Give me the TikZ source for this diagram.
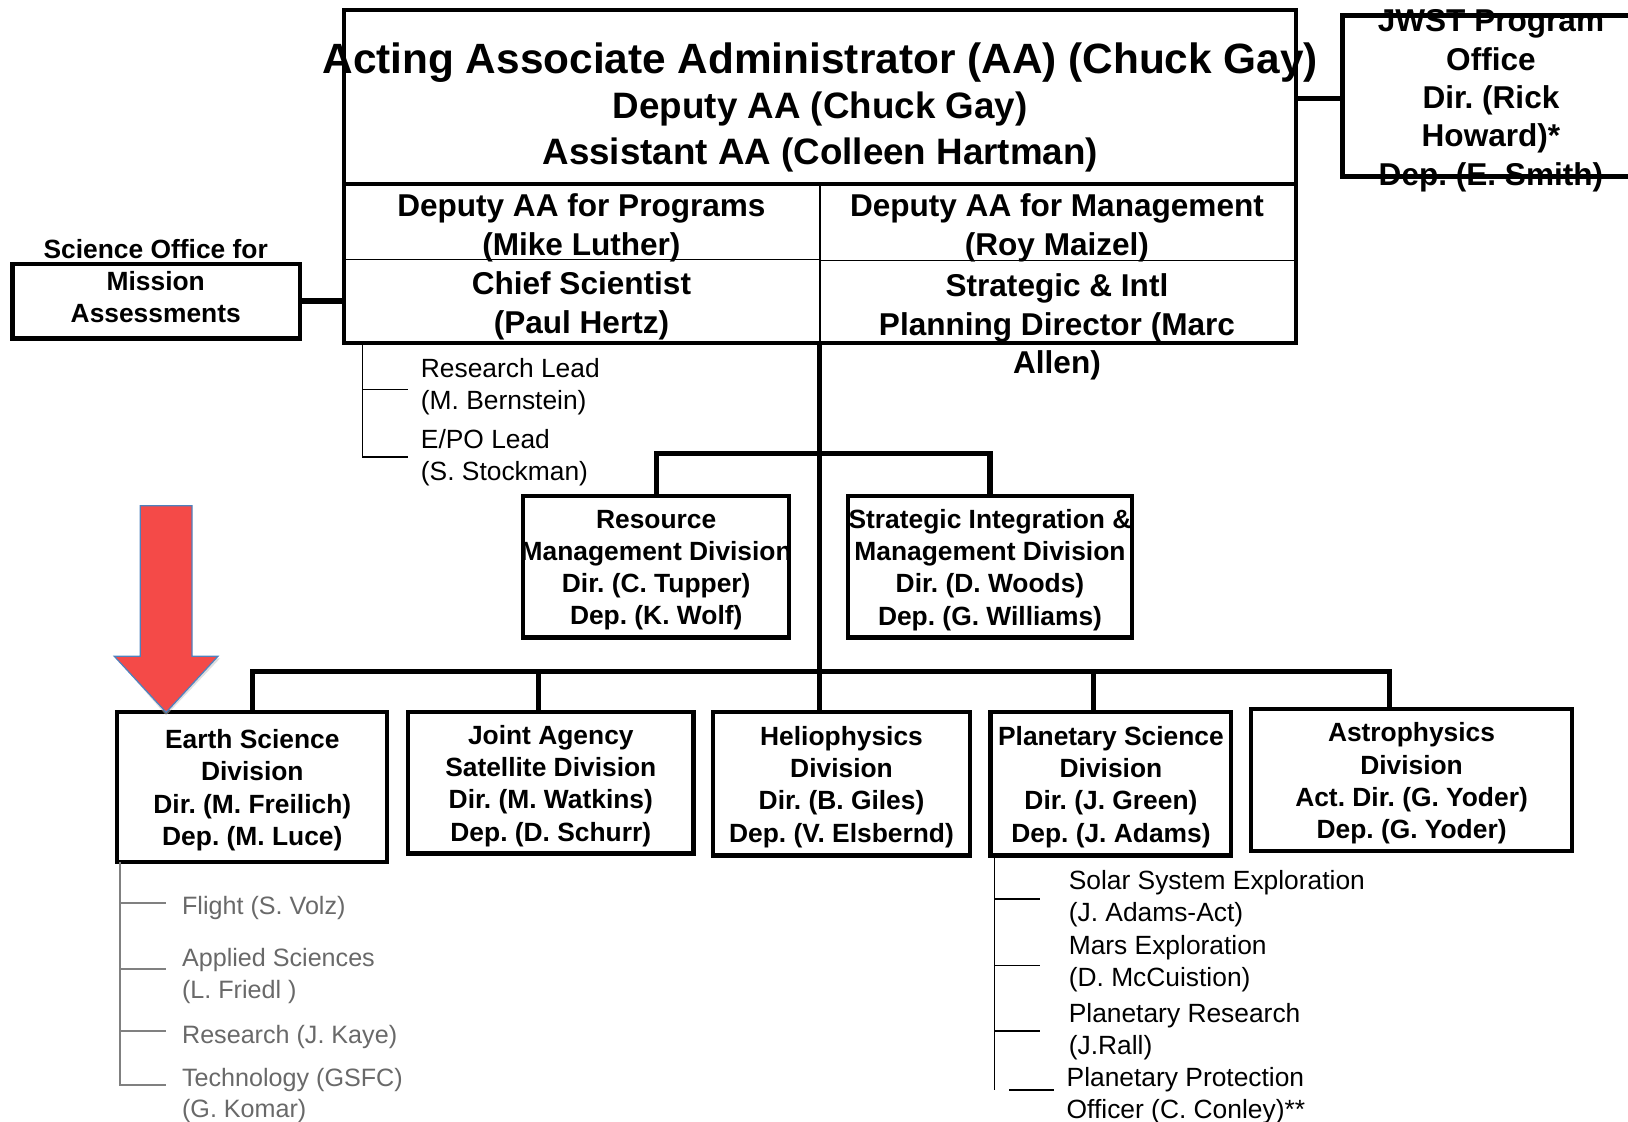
\documentclass[tikz,border=0pt]{standalone}
\usepackage{fontspec}
\setmainfont{Liberation Sans}
\usepackage{tikz}
\usetikzlibrary{calc}
\frenchspacing

\definecolor{arrowred}{RGB}{244,74,72}
\definecolor{arrowedge}{RGB}{79,129,189}
\definecolor{listgray}{RGB}{105,105,105}
\definecolor{linegray}{RGB}{128,128,128}

\begin{document}
\begin{tikzpicture}[
  x=0.5pt, y=-0.5pt,
  box/.style={draw, line width=2pt, fill=white, inner sep=0pt},
  link/.style={line width=2.5pt},
  thinline/.style={line width=0.75pt},
  titletext/.style={font=\fontsize{20.4}{24}\selectfont\bfseries, inner sep=0pt, yshift=-2.5pt},
  subtext/.style={font=\fontsize{17.7}{22}\selectfont\bfseries, align=center, inner sep=0pt, yshift=-2pt},
  depttext/.style={font=\fontsize{15.2}{18.5}\selectfont\bfseries, align=center, inner sep=0pt, yshift=-1.5pt},
  divtext/.style={font=\fontsize{12.7}{15.5}\selectfont\bfseries, align=center, inner sep=0pt, yshift=-1.5pt},
  listtext/.style={font=\fontsize{12.7}{15.5}\selectfont, align=left, anchor=west, inner sep=0pt, yshift=-1.5pt},
  graytext/.style={font=\fontsize{12.1}{15}\selectfont, text=listgray, align=left, anchor=west, inner sep=0pt, yshift=-1.5pt},
  ]

  % Parameters
  \def\pxu{0.5pt}
  \def\Xm{790}
  \def\Yrow{177}

  \useasboundingbox (0,0) rectangle (1568,1080);

  % Associate Administrator box
  \node[box, minimum width=917*\pxu, minimum height=320*\pxu] (aa) at (789.5,170) {};
  \draw[line width=2pt] (331,\Yrow) -- (1248,\Yrow);
  \draw[thinline] (\Xm,\Yrow) -- (\Xm,330);
  \draw[thinline] (331,250) -- (\Xm,250);
  \draw[thinline] (\Xm,251) -- (1248,251);
  \node[titletext] (aaname) at (790,55) {Acting Associate Administrator (AA) (Chuck Gay)};
  \node[subtext] (aadeps) at (790,123) {Deputy AA (Chuck Gay)\\Assistant AA (Colleen Hartman)};
  \node[depttext] (dprog) at (560,216.5) {Deputy AA for Programs\\(Mike Luther)};
  \node[depttext] (csci) at (560,291.5) {Chief Scientist\\(Paul Hertz)};
  \node[depttext] (dmgmt) at (1018,216.5) {Deputy AA for Management\\(Roy Maizel)};
  \node[depttext] (sipd) at (1018,312) {Strategic \& Intl\\Planning Director (Marc\\Allen)};

  % JWST office
  \node[box, minimum width=307*\pxu, minimum height=155*\pxu] (jwst) at (1446.5,92.5) {};
  \node[depttext] (jwsttxt) at (1436,94) {JWST Program\\Office\\Dir. (Rick\\Howard)*\\Dep. (E. Smith)};
  \draw[link] ([yshift=-1.25pt]jwst.west) -- ([yshift=-1.25pt]jwst.west -| aa.east);

  % Science Office for Mission Assessments
  \node[box, minimum width=277*\pxu, minimum height=72*\pxu] (soma) at (150.5,290) {};
  \node[divtext, yshift=1.5pt] (somatxt) at (150,270.5) {Science Office for\\Mission\\Assessments};
  \draw[link] (soma.east) -- (soma.east -| aa.west);

  % Leads under the chief scientist
  \draw[thinline] (349,330) |- (393,440);
  \draw[thinline] (349,375) -- (393,375);
  \node[listtext] (reslead) at (405,369.5) {Research Lead\\(M. Bernstein)};
  \node[listtext] (epolead) at (405,437.5) {E/PO Lead\\(S. Stockman)};

  % Management divisions
  \node[box, minimum width=256*\pxu, minimum height=136*\pxu] (rmd) at (632,546) {};
  \node[box, minimum width=273*\pxu, minimum height=136*\pxu] (simd) at (953.5,546) {};
  \begin{scope}
    \clip (rmd.north west) rectangle (rmd.south east);
    \node[divtext] (rmdtxt) at (rmd) {Resource\\Management Division\\Dir. (C. Tupper)\\Dep. (K. Wolf)};
  \end{scope}
  \begin{scope}
    \clip (simd.north west) rectangle (simd.south east);
    \node[divtext] (simdtxt) at (simd) {Strategic Integration \&\\Management Division\\Dir. (D. Woods)\\Dep. (G. Williams)};
  \end{scope}

  % Science divisions
  \node[box, minimum width=260*\pxu, minimum height=144*\pxu] (esd) at (243,758) {};
  \node[box, minimum width=275*\pxu, minimum height=136*\pxu] (jasd) at (530.5,754) {};
  \node[box, minimum width=247*\pxu, minimum height=138*\pxu] (hpd) at (810.5,755) {};
  \node[box, minimum width=232*\pxu, minimum height=138*\pxu] (psd) at (1070,755) {};
  \node[box, minimum width=309*\pxu, minimum height=137*\pxu] (apd) at (1359.5,751.5) {};
  \node[divtext] (esdtxt) at (esd) {Earth Science\\Division\\Dir. (M. Freilich)\\Dep. (M. Luce)};
  \node[divtext] (jasdtxt) at (jasd) {Joint Agency\\Satellite Division\\Dir. (M. Watkins)\\Dep. (D. Schurr)};
  \node[divtext] (hpdtxt) at (hpd) {Heliophysics\\Division\\Dir. (B. Giles)\\Dep. (V. Elsbernd)};
  \node[divtext] (psdtxt) at (psd) {Planetary Science\\Division\\Dir. (J. Green)\\Dep. (J. Adams)};
  \node[divtext] (apdtxt) at (apd) {Astrophysics\\Division\\Act. Dir. (G. Yoder)\\Dep. (G. Yoder)};

  % Trunk and buses
  \coordinate (bus1) at (789.5,437);
  \coordinate (bus2) at (789.5,647);
  \draw[link] (aa.south) -- (aa.south |- hpd.north);
  \draw[link] (rmd.north) |- (bus1) -| (simd.north);
  \foreach \n/\dx in {esd/0, jasd/-12, psd/-17, apd/-21} {
    \draw[link] (bus2) -| ([xshift=\dx*\pxu]\n.north);
  }

  % Highlight arrow
  \fill[black!25, opacity=0.5] (112,634) -- (160,689) -- (212,634) -- (208,634) -- (160,686) -- (110,632) -- cycle;
  \draw[fill=arrowred, draw=arrowedge, line width=0.6pt, line join=miter]
    (135,487) -- (185,487) -- (185,632) -- (210,632) -- (160,686)
    -- (110,632) -- (135,632) -- cycle;

  % Earth science branches
  \draw[line width=1pt, linegray] (116,830) |- (160,1045);
  \foreach \y in {870, 933, 993} {
    \draw[line width=1pt, linegray] (116,\y) -- (160,\y);
  }
  \node[graytext] (flight) at (175,872) {Flight (S. Volz)};
  \node[graytext] (applsci) at (175,937) {Applied Sciences\\(L. Friedl )};
  \node[graytext] (esres) at (175,996) {Research (J. Kaye)};
  \node[graytext] (estech) at (175,1052.5) {Technology (GSFC)\\(G. Komar)};

  % Planetary science branches
  \draw[thinline] (958,824) -- (958,1050);
  \foreach \y in {866, 930, 993} {
    \draw[thinline] (958,\y) -- (1002,\y);
  }
  \draw[thinline] (972,1050) -- (1015,1050);
  \node[listtext] (sse) at (1029,862.5) {Solar System Exploration\\(J. Adams-Act)};
  \node[listtext] (mars) at (1029,925) {Mars Exploration\\(D. McCuistion)};
  \node[listtext] (pres) at (1029,990.5) {Planetary Research\\(J.Rall)};
  \node[listtext] (ppo) at (1027,1052) {Planetary Protection\\Officer (C. Conley)**};

\end{tikzpicture}
\end{document}
